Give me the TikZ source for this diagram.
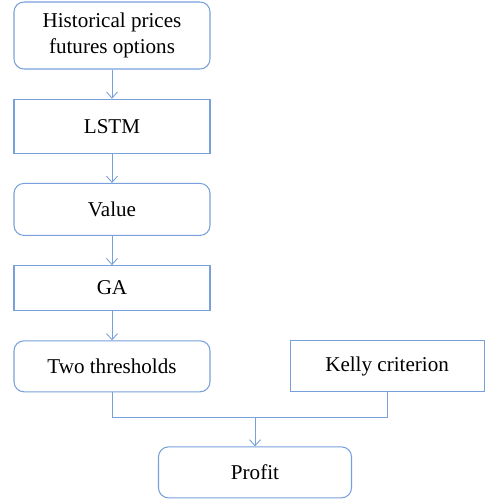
\documentclass[tikz,border=0pt]{standalone}
\usepackage{fontspec}
\setmainfont{Liberation Serif}
\usetikzlibrary{positioning,arrows.meta}
\definecolor{boxblue}{RGB}{120,160,220}

\begin{document}
\begin{tikzpicture}[node distance=0.583cm,thin,
	box/.style={draw=boxblue,line width=0.6pt,minimum width=3.92cm,align=center,font=\fontsize{12}{14.7}\selectfont},
	rbox/.style={box,rounded corners=0.2cm},
	link/.style={draw=boxblue,line width=0.5pt,-{Straight Barb[length=1.2mm,width=2.2mm]}}]

\useasboundingbox (0,0) rectangle (9.68,-10);

\node[rbox,minimum height=1.34cm](hist) at (2.24,-0.71){Historical prices\\futures options};
\node[box,minimum height=1.08cm](lstm)[below=of hist]{LSTM};
\node[rbox,minimum height=1.04cm](value)[below=of lstm]{Value};
\node[box,minimum height=0.9cm](ga)[below=of value]{GA};
\node[rbox,minimum height=1.02cm](two)[below=of ga]{Two thresholds};
\node[box,minimum height=1.02cm,minimum width=3.88cm](kelly)[right=1.58cm of two]{Kelly criterion};
\node[rbox,minimum height=1.02cm,minimum width=3.86cm](profit)[below=1.08cm of two.south,xshift=2.86cm]{Profit};

\coordinate (split) at ([yshift=-0.5cm]two.south);

\path(hist)edge[link](lstm)
	(lstm)edge[link](value)
	(value)edge[link](ga)
	(ga)edge[link](two);
\draw[boxblue,line width=0.5pt](two.south)--(split)-|(kelly.south);
\draw[link](split -| profit.north)--(profit.north);

\end{tikzpicture}
\end{document}
